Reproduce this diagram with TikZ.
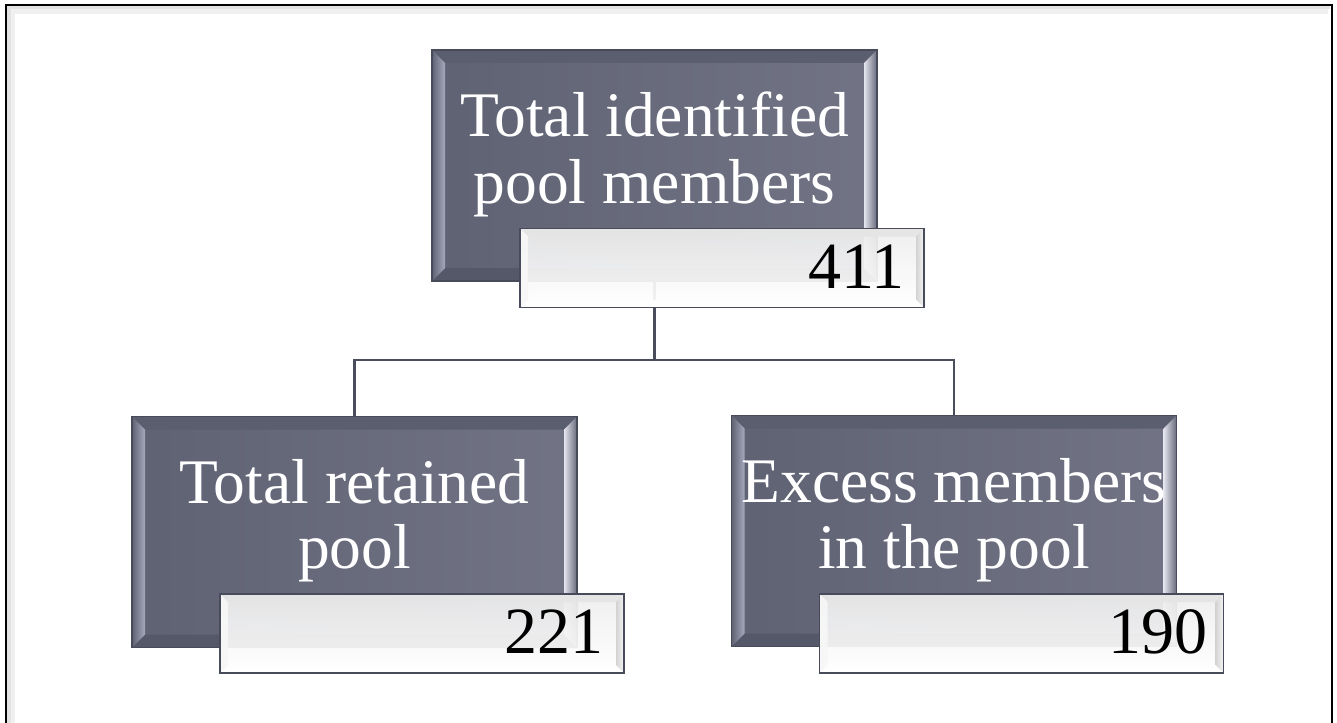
\documentclass[tikz,border=0pt]{standalone}
\usepackage{fontspec}
\setmainfont{Liberation Serif}
\usetikzlibrary{calc}
\definecolor{slate}{HTML}{5F6273}
\definecolor{slateR}{HTML}{727486}
\definecolor{slateEdge}{HTML}{484B5A}
\definecolor{bevelL}{HTML}{A6A9BB}
\definecolor{bevelR}{HTML}{E4E5EE}
\definecolor{lineC}{HTML}{4A4D5C}
\tikzset{
  darkbox/.style={rectangle, minimum width=445pt, minimum height=231pt, inner sep=0pt,
    draw=slateEdge, line width=1.2pt, left color=slate, right color=slateR,
    path picture={
      \coordinate (nw) at (path picture bounding box.north west);
      \coordinate (ne) at (path picture bounding box.north east);
      \coordinate (sw) at (path picture bounding box.south west);
      \coordinate (se) at (path picture bounding box.south east);
      \fill[slate!96!black] (nw) -- (ne) -- ($(ne)+(-13,13)$) -- ($(nw)+(13,13)$) -- cycle;
      \fill[slate!90!black] (sw) -- (se) -- ($(se)+(-13,-13)$) -- ($(sw)+(13,-13)$) -- cycle;
      \shade[left color=slate, right color=bevelL] (nw) -- (sw) -- ($(sw)+(13,-13)$) -- ($(nw)+(13,13)$) -- cycle;
      \shade[left color=bevelR, right color=slateR!90!black] (ne) -- (se) -- ($(se)+(-13,-13)$) -- ($(ne)+(-13,13)$) -- cycle;
    }},
  lightbox/.style={rectangle, minimum width=404pt, minimum height=79pt, inner sep=0pt,
    draw=slateEdge, line width=1.5pt, top color=black!7, bottom color=white,
    fill opacity=0.93,
    path picture={
      \coordinate (nw) at (path picture bounding box.north west);
      \coordinate (ne) at (path picture bounding box.north east);
      \coordinate (sw) at (path picture bounding box.south west);
      \coordinate (se) at (path picture bounding box.south east);
      \fill[black!10] (nw) -- (ne) -- ($(ne)+(-8,8)$) -- ($(nw)+(8,8)$) -- cycle;
      \fill[white] (sw) -- (se) -- ($(se)+(-8,-8)$) -- ($(sw)+(8,-8)$) -- cycle;
      \fill[black!3] (nw) -- (sw) -- ($(sw)+(8,-8)$) -- ($(nw)+(8,8)$) -- cycle;
      \shade[left color=black!18, right color=black!4] (ne) -- (se) -- ($(se)+(-8,-8)$) -- ($(ne)+(-8,8)$) -- cycle;
    }},
  lbl/.style={inner sep=0pt, anchor=base, text=white, font=\fontsize{63.5}{66}\selectfont},
  num/.style={inner sep=0pt, anchor=base east, text=black, font=\fontsize{66}{70}\selectfont},
  conn/.style={draw=lineC, line width=2.5pt},
}
\begin{document}
\begin{tikzpicture}[x=1pt, y=-1pt]
\useasboundingbox (0,0) rectangle (1337,722);
% outer frame with soft inner shadow
\draw[line width=9pt, black!6] (10.5,730) -- (10.5,9.5) -- (1328,9.5);
\draw[line width=4pt, black!11] (8.5,730) -- (8.5,7.5) -- (1330,7.5);
\draw[line width=2.2pt, black] (6,730) -- (6,5) -- (1332,5) -- (1332,730);

% dark boxes
\node[darkbox] (top) at (654.5,165.5) {};
\node[darkbox] (left) at (354.5,532) {};
\node[darkbox] (right) at (954,531) {};

% connectors
\coordinate (junc) at (654.5,360);
\draw[conn] (top.south) -- (junc);
\draw[conn] (junc) -| (left.north);
\draw[conn] (junc) -| (right.north);

% light boxes
\node[lightbox] (topn) at (722,268) {};
\node[lightbox] (leftn) at (422,633.5) {};
\node[lightbox] (rightn) at (1021.5,633.5) {};

% labels
\node[lbl] (t1) at (654.5,137) {Total identified};
\node[lbl] (t2) at (654.5,203) {pool members};
\node[lbl] (l1) at (354.5,503) {Total retained};
\node[lbl] (l2) at (354.5,568) {pool};
\node[lbl] (r1) at (954,502) {Excess members};
\node[lbl] (r2) at (954,568) {in the pool};

% numbers
\node[num] (n1) at ([shift={(-20,-20)}]topn.south east) {411};
\node[num] (n2) at ([shift={(-21,-20)}]leftn.south east) {221};
\node[num] (n3) at ([shift={(-17,-20)}]rightn.south east) {190};
\end{tikzpicture}
\end{document}
